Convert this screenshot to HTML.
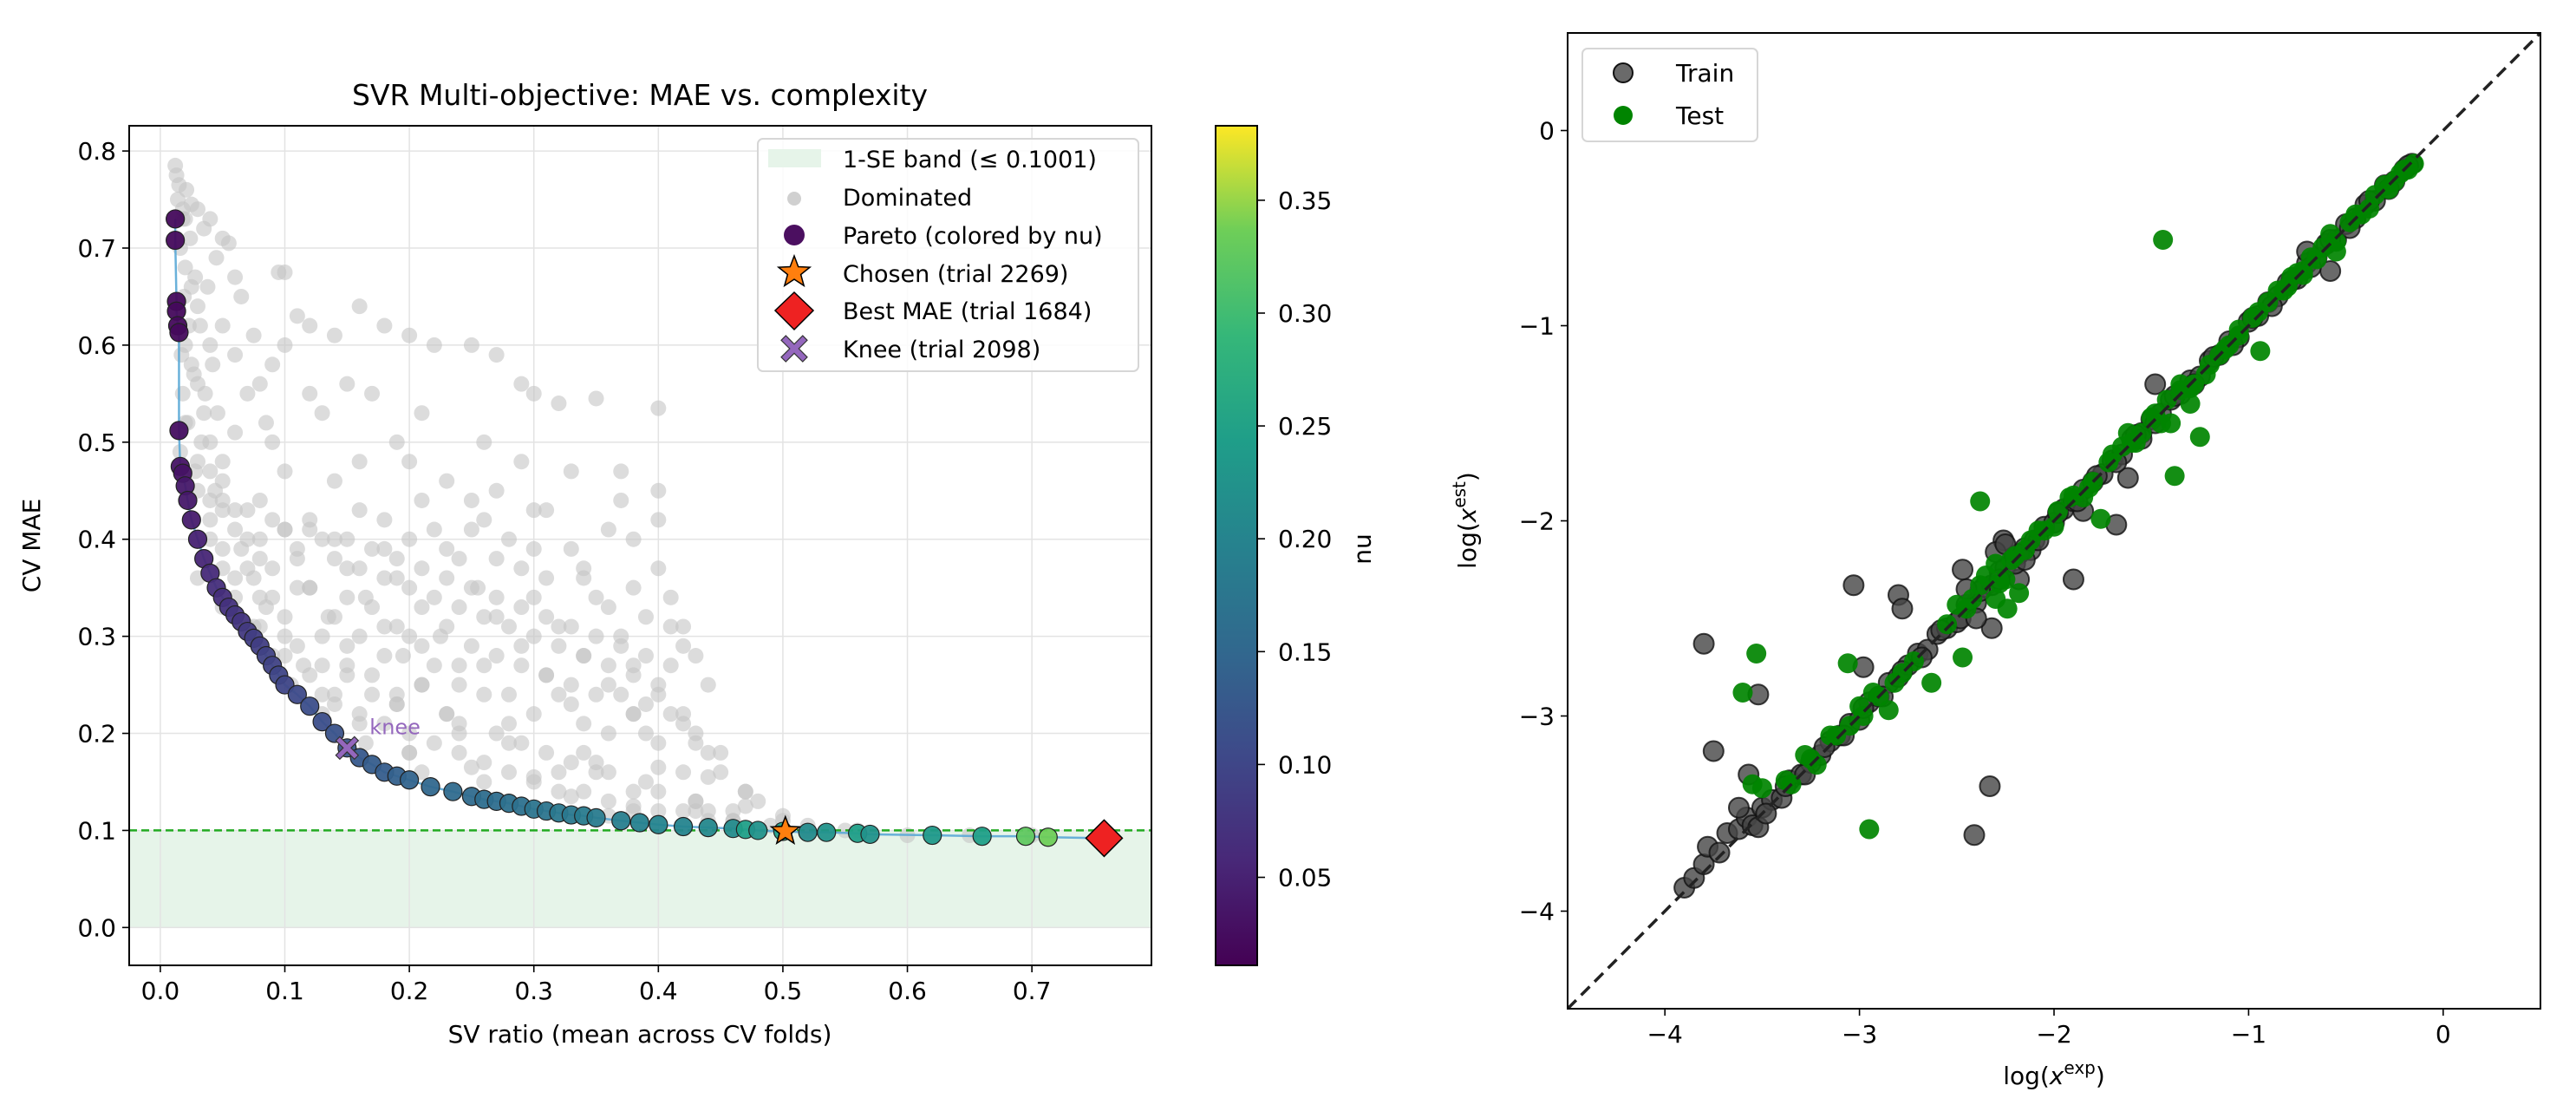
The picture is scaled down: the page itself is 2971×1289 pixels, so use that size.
<!DOCTYPE html>
<html><head><meta charset="utf-8"><style>
html,body{margin:0;padding:0;background:#fff;}
svg{display:block;font-family:"DejaVu Sans","Liberation Sans",sans-serif;}
</style></head><body>
<svg id="fig" width="2971" height="1289" viewBox="0 0 2971 1289" xmlns="http://www.w3.org/2000/svg">
<defs>
<linearGradient id="viridis" x1="0" y1="1" x2="0" y2="0">
<stop offset="0" stop-color="#440154"/><stop offset="0.125" stop-color="#482878"/><stop offset="0.25" stop-color="#3e4989"/><stop offset="0.375" stop-color="#31688e"/><stop offset="0.5" stop-color="#26828e"/><stop offset="0.625" stop-color="#1f9e89"/><stop offset="0.75" stop-color="#35b779"/><stop offset="0.875" stop-color="#6ece58"/><stop offset="1" stop-color="#fde725"/>
</linearGradient>
<clipPath id="clipL"><rect x="149" y="145" width="1179" height="968"/></clipPath>
<clipPath id="clipR"><rect x="1808" y="38" width="1122" height="1125"/></clipPath>
</defs>
<g id="left"></g>
<g id="cbar"></g>
<g id="right"></g>
</svg>
<script>
// ---------- Left chart data ----------
const xTicksL = [0.0,0.1,0.2,0.3,0.4,0.5,0.6,0.7];
const xTickLabelsL = ["0.0","0.1","0.2","0.3","0.4","0.5","0.6","0.7"];
const yTicksL = [0.0,0.1,0.2,0.3,0.4,0.5,0.6,0.7,0.8];
const yTickLabelsL = ["0.0","0.1","0.2","0.3","0.4","0.5","0.6","0.7","0.8"];
const cbTicks = [0.05,0.10,0.15,0.20,0.25,0.30,0.35];
const cbTickLabels = ["0.05","0.10","0.15","0.20","0.25","0.30","0.35"];
const seThreshold = 0.1001;
const domX = [0.012,0.013,0.015,0.014,0.018,0.02,0.025,0.03,0.035,0.04,0.05,0.055,0.045,0.06,0.065,0.02,0.025,0.03,0.02,0.025,0.03,0.04,0.05,0.06,0.035,0.04,0.05,0.06,0.07,0.08,0.09,0.1,0.11,0.12,0.14,0.16,0.18,0.2,0.22,0.095,0.1,0.075,0.085,0.09,0.1,0.12,0.13,0.15,0.17,0.19,0.2,0.21,0.23,0.25,0.27,0.29,0.3,0.32,0.35,0.4,0.37,0.37,0.4,0.4,0.27,0.29,0.3,0.18,0.25,0.14,0.16,0.33,0.26,
0.04,0.05,0.06,0.07,0.08,0.09,0.1,0.11,0.12,0.13,0.14,0.15,0.16,0.17,0.18,0.19,0.2,0.21,0.22,0.23,0.24,0.25,0.26,0.27,0.28,0.29,0.3,0.31,0.32,0.33,0.34,0.35,0.36,0.37,0.38,0.39,0.4,0.41,0.42,0.43,0.44,0.45,0.47,0.48,0.5,0.55,0.6,0.65,0.7,
0.06,0.08,0.1,0.12,0.14,0.16,0.18,0.2,0.22,0.24,0.26,0.28,0.3,0.32,0.34,0.36,0.38,0.4,0.42,0.1,0.12,0.14,0.16,0.18,0.2,0.22,0.24,0.26,0.28,0.3,0.32,0.34,0.36,0.38,0.4,0.44,0.46,0.09,0.11,0.13,0.15,0.17,0.19,0.21,0.23,0.25,0.27,0.29,0.31,0.33,0.35,0.37,0.39,0.41,0.05,0.07,0.03,0.04,0.23,0.27,0.31,0.35,0.39,0.41,0.42,0.2,0.25,0.3,0.34,0.38,0.15,0.19,0.23,0.27,0.31,0.35,0.39,0.43,
0.02,0.03,0.04,0.05,0.06,0.07,0.08,0.03,0.05,0.07,0.09,0.11,0.13,0.15,0.17,0.19,0.21,0.24,0.28,0.33,0.36,0.4,0.44,0.08,0.14,0.2,0.26,0.32,0.38,0.43,0.46,0.49,0.52];
const domY = [0.785,0.775,0.765,0.75,0.74,0.73,0.745,0.74,0.72,0.73,0.71,0.705,0.69,0.67,0.65,0.68,0.66,0.64,0.6,0.58,0.56,0.6,0.62,0.59,0.53,0.5,0.48,0.51,0.55,0.56,0.58,0.6,0.63,0.62,0.61,0.64,0.62,0.61,0.6,0.675,0.675,0.61,0.52,0.5,0.47,0.55,0.53,0.56,0.55,0.5,0.48,0.53,0.46,0.6,0.59,0.56,0.55,0.54,0.545,0.535,0.47,0.44,0.45,0.42,0.45,0.48,0.43,0.42,0.44,0.46,0.48,0.47,0.5,
0.42,0.44,0.41,0.43,0.4,0.42,0.41,0.39,0.41,0.4,0.38,0.4,0.37,0.39,0.36,0.38,0.35,0.37,0.34,0.36,0.33,0.35,0.32,0.34,0.31,0.33,0.3,0.32,0.29,0.31,0.28,0.3,0.27,0.29,0.26,0.28,0.25,0.27,0.22,0.2,0.18,0.16,0.14,0.13,0.11,0.1,0.095,0.095,0.095,
0.36,0.34,0.32,0.35,0.32,0.3,0.28,0.3,0.27,0.25,0.27,0.24,0.22,0.24,0.21,0.2,0.22,0.19,0.16,0.28,0.26,0.24,0.22,0.21,0.2,0.19,0.18,0.17,0.16,0.15,0.14,0.14,0.13,0.12,0.12,0.11,0.11,0.37,0.35,0.3,0.34,0.33,0.31,0.29,0.31,0.29,0.28,0.27,0.26,0.25,0.24,0.24,0.23,0.22,0.39,0.37,0.45,0.47,0.39,0.38,0.36,0.34,0.32,0.31,0.29,0.4,0.41,0.39,0.37,0.35,0.27,0.24,0.22,0.2,0.18,0.17,0.15,0.13,
0.52,0.48,0.44,0.46,0.43,0.4,0.38,0.36,0.33,0.31,0.34,0.29,0.27,0.26,0.24,0.23,0.25,0.21,0.19,0.17,0.16,0.14,0.12,0.31,0.23,0.18,0.15,0.16,0.14,0.12,0.12,0.105,0.1];
const domCoreX = [0.016,0.022,0.018,0.027,0.017,0.023,0.019,0.028,0.016,0.024,0.018,0.021,0.033,0.036,0.032,0.038,0.042,0.046,0.028,0.044,
0.05,0.08,0.12,0.16,0.21,0.26,0.31,0.36,
0.04,0.065,0.1,0.14,0.18,0.22,0.28,0.33,0.38,
0.05,0.075,0.11,0.15,0.19,0.24,0.29,0.34,0.4,
0.06,0.085,0.12,0.165,0.21,0.255,0.3,0.36,0.41,
0.075,0.1,0.135,0.18,0.225,0.27,0.32,0.37,0.42,
0.09,0.115,0.15,0.195,0.24,0.29,0.34,0.38,0.43,
0.105,0.13,0.17,0.21,0.26,0.31,0.36,0.4,0.44,
0.13,0.16,0.19,0.23,0.28,0.33,0.38,0.42,
0.165,0.2,0.24,0.29,0.34,0.39,0.43,0.45,
0.21,0.25,0.3,0.35,0.4,0.44,0.47,
0.28,0.33,0.38,0.43,0.47,0.5,
0.36,0.42,0.46,0.52,0.56];
const domCoreY = [0.49,0.52,0.55,0.57,0.59,0.62,0.65,0.67,0.7,0.71,0.73,0.76,0.5,0.55,0.62,0.66,0.58,0.53,0.47,0.45,
0.43,0.44,0.42,0.43,0.44,0.42,0.43,0.41,
0.4,0.39,0.41,0.4,0.39,0.41,0.4,0.39,0.4,
0.37,0.36,0.38,0.37,0.36,0.38,0.37,0.36,0.37,
0.34,0.33,0.35,0.34,0.33,0.35,0.34,0.33,0.34,
0.31,0.3,0.32,0.31,0.3,0.32,0.31,0.3,0.31,
0.28,0.27,0.29,0.28,0.27,0.29,0.28,0.27,0.28,
0.25,0.24,0.26,0.25,0.24,0.26,0.25,0.24,0.25,
0.22,0.21,0.23,0.22,0.21,0.23,0.22,0.21,
0.19,0.18,0.2,0.19,0.18,0.2,0.19,0.18,
0.16,0.165,0.155,0.16,0.165,0.155,0.14,
0.13,0.135,0.125,0.13,0.125,0.115,
0.115,0.12,0.11,0.105,0.1];
const paretoX = [0.012,0.012,0.013,0.013,0.014,0.015,0.015,0.016,0.018,0.02,0.022,0.025,0.03,0.035,0.04,0.045,0.05,0.055,0.06,0.065,0.07,0.075,0.08,0.085,0.09,0.095,0.10,0.11,0.12,0.13,0.14,0.15,0.16,0.17,0.18,0.19,0.20,0.217,0.235,0.25,0.26,0.27,0.28,0.29,0.30,0.31,0.32,0.33,0.34,0.35,0.37,0.385,0.40,0.42,0.44,0.46,0.47,0.48,0.50,0.52,0.535,0.56,0.57,0.62,0.66,0.695,0.713,0.758];
const paretoY = [0.73,0.708,0.645,0.635,0.62,0.613,0.512,0.475,0.468,0.455,0.44,0.42,0.40,0.38,0.365,0.35,0.34,0.33,0.322,0.315,0.305,0.298,0.29,0.28,0.27,0.26,0.25,0.24,0.228,0.212,0.20,0.185,0.175,0.168,0.16,0.156,0.152,0.145,0.14,0.135,0.132,0.13,0.128,0.125,0.122,0.12,0.118,0.116,0.115,0.113,0.11,0.108,0.106,0.104,0.103,0.102,0.101,0.10,0.099,0.098,0.098,0.097,0.096,0.095,0.094,0.094,0.093,0.092];
const paretoNu = [0.02,0.02,0.02,0.02,0.02,0.02,0.025,0.03,0.03,0.035,0.035,0.04,0.045,0.05,0.055,0.06,0.06,0.065,0.07,0.07,0.075,0.08,0.08,0.085,0.085,0.09,0.09,0.095,0.1,0.1,0.105,0.11,0.115,0.12,0.12,0.125,0.13,0.135,0.14,0.14,0.145,0.145,0.15,0.15,0.155,0.155,0.16,0.16,0.165,0.165,0.17,0.175,0.18,0.18,0.185,0.19,0.22,0.2,0.22,0.19,0.2,0.22,0.2,0.21,0.22,0.29,0.3,0.3];
const chosen = [0.502, 0.099];
const bestMae = [0.758, 0.092];
const knee = [0.150, 0.185];

// ---------- Right chart data ----------
const ticksR = [-4,-3,-2,-1,0];
const tickLabelsR = ["\u22124","\u22123","\u22122","\u22121","0"];
const trainX = [-3.9,-3.85,-3.8,-3.78,-3.72,-3.68,-3.62,-3.58,-3.55,-3.5,-3.45,-3.4,-3.36,-3.3,-3.25,-3.2,-3.15,-3.1,-3.05,-3.0,-2.95,-2.9,-2.85,-2.8,-2.75,-2.7,-2.65,-2.6,-2.55,-2.5,-2.45,-2.4,-2.36,-2.32,-2.28,-2.25,-2.2,-2.15,-2.1,-2.05,-2.0,-1.95,-1.9,-1.85,-1.8,-1.75,-1.7,-1.65,-1.6,-1.55,-1.5,-1.45,-1.4,-1.35,-1.3,-1.25,-1.2,-1.15,-1.1,-1.05,-1.0,-0.95,-0.9,-0.85,-0.8,-0.75,-0.7,-0.65,-0.6,-0.55,-0.5,-0.45,-0.4,-0.35,-0.3,-0.25,-0.2,-0.16,
-3.8,-3.75,-3.52,-3.03,-2.8,-2.78,-2.98,-2.33,-2.41,-1.9,-1.68,-2.47,-3.57,-3.62,-3.52,-2.32,-2.26,-1.85,-1.55,-0.58,-1.48,-2.18,-2.12,-1.62,-0.7,
-3.48,-3.38,-3.28,-3.18,-3.08,-2.98,-2.88,-2.78,-2.68,-2.58,-2.48,-2.38,-2.28,-2.18,-2.08,-1.98,-1.88,-1.78,-1.68,-1.58,-1.48,-1.38,-1.28,-1.18,-1.08,-0.98,-0.88,-0.78,-0.68,-0.58,-0.48,-0.38,-0.28,-0.18,-2.3,-2.25,-2.2,-2.15,-2.4,-2.45];
const trainY = [-3.88,-3.83,-3.76,-3.67,-3.7,-3.6,-3.58,-3.52,-3.56,-3.47,-3.43,-3.42,-3.33,-3.3,-3.24,-3.2,-3.13,-3.1,-3.04,-3.02,-2.93,-2.9,-2.83,-2.8,-2.74,-2.68,-2.66,-2.58,-2.55,-2.52,-2.43,-2.42,-2.34,-2.33,-2.26,-2.24,-2.18,-2.14,-2.1,-2.03,-2.01,-1.94,-1.9,-1.84,-1.8,-1.76,-1.69,-1.66,-1.58,-1.55,-1.48,-1.45,-1.38,-1.35,-1.28,-1.26,-1.18,-1.15,-1.08,-1.06,-0.98,-0.95,-0.88,-0.85,-0.78,-0.76,-0.68,-0.65,-0.58,-0.56,-0.48,-0.45,-0.38,-0.36,-0.28,-0.26,-0.2,-0.17,
-2.63,-3.18,-2.89,-2.33,-2.38,-2.45,-2.75,-3.36,-3.61,-2.3,-2.02,-2.25,-3.3,-3.47,-3.57,-2.55,-2.1,-1.95,-1.58,-0.72,-1.3,-2.3,-2.15,-1.78,-0.62,
-3.5,-3.36,-3.3,-3.16,-3.1,-2.96,-2.9,-2.77,-2.7,-2.56,-2.5,-2.36,-2.3,-2.17,-2.1,-1.96,-1.9,-1.77,-1.7,-1.56,-1.5,-1.36,-1.3,-1.16,-1.1,-0.96,-0.9,-0.77,-0.7,-0.56,-0.5,-0.36,-0.3,-0.18,-2.16,-2.12,-2.22,-2.2,-2.5,-2.35];
const testX = [-1.44,-2.38,-3.53,-3.6,-3.06,-2.47,-2.63,-2.95,-0.94,-1.25,-1.38,-1.76,-2.18,-2.24,-3.55,-3.5,-3.38,-3.28,-3.22,-3.15,-3.05,-3.0,-2.93,-2.85,-2.78,-2.72,-2.55,-2.5,-2.42,-2.35,-2.3,-2.25,-2.2,-2.12,-2.05,-1.98,-1.92,-1.85,-1.8,-1.72,-1.65,-1.6,-1.55,-1.48,-1.42,-1.35,-1.3,-1.22,-1.15,-1.1,-1.05,-0.98,-0.9,-0.85,-0.78,-0.72,-0.68,-0.62,-0.55,-0.48,-0.42,-0.35,-0.28,-0.22,-0.18,-0.15,-0.8,-0.58,-1.4,-2.3,
-3.35,-3.25,-3.12,-2.98,-2.9,-2.82,-2.45,-2.38,-2.28,-2.22,-2.15,-2.08,-2.0,-1.9,-1.82,-1.7,-1.58,-1.5,-1.45,-1.35,-1.28,-1.2,-1.12,-1.05,-0.95,-0.82,-0.75,-0.65,-0.55,-0.45,-0.38,-0.3,-0.25,-0.2,-1.62,-1.3,-0.72];
const testY = [-0.56,-1.9,-2.68,-2.88,-2.73,-2.7,-2.83,-3.58,-1.13,-1.57,-1.77,-1.99,-2.37,-2.45,-3.35,-3.37,-3.33,-3.2,-3.25,-3.1,-3.05,-2.95,-2.88,-2.97,-2.78,-2.72,-2.53,-2.43,-2.4,-2.28,-2.22,-2.3,-2.18,-2.1,-2.05,-1.95,-1.88,-1.88,-1.8,-1.7,-1.62,-1.6,-1.55,-1.45,-1.38,-1.3,-1.32,-1.25,-1.15,-1.1,-1.02,-0.96,-0.88,-0.82,-0.75,-0.74,-0.65,-0.6,-0.62,-0.47,-0.43,-0.33,-0.3,-0.22,-0.2,-0.17,-0.8,-0.53,-1.5,-2.4,
-3.35,-3.22,-3.1,-3.0,-2.9,-2.83,-2.45,-2.33,-2.32,-2.2,-2.15,-2.05,-2.03,-1.87,-1.83,-1.66,-1.6,-1.47,-1.5,-1.33,-1.3,-1.2,-1.12,-1.05,-0.93,-0.82,-0.73,-0.66,-0.57,-0.43,-0.4,-0.28,-0.26,-0.2,-1.55,-1.4,-0.72];

// ---------- helpers ----------
const NS = "http://www.w3.org/2000/svg";
function mk(parent, tag, attrs, text){
  const e = document.createElementNS(NS, tag);
  for (const k in attrs) e.setAttribute(k, attrs[k]);
  if (text !== undefined) e.textContent = text;
  parent.appendChild(e); return e;
}
const VIR = [[68,1,84],[72,40,120],[62,73,137],[49,104,142],[38,130,142],[31,158,137],[53,183,121],[110,206,88],[181,222,43],[253,231,37]];
function viridis(t){
  t = Math.max(0, Math.min(1, t)); const s = t*(VIR.length-1); const i = Math.min(Math.floor(s), VIR.length-2); const f = s-i;
  const c = VIR[i].map((v,j)=>Math.round(v+(VIR[i+1][j]-v)*f)); return `rgb(${c[0]},${c[1]},${c[2]})`;
}
const L = {x0:149,x1:1328,y0:145,y1:1113, xmin:-0.025, xmax:0.796, ymin:-0.039, ymax:0.826};
const xL = v => L.x0 + (v-L.xmin)/(L.xmax-L.xmin)*(L.x1-L.x0);
const yL = v => L.y1 - (v-L.ymin)/(L.ymax-L.ymin)*(L.y1-L.y0);
const CB = {x0:1402,x1:1450,y0:145,y1:1113,min:0.011,max:0.383};
const yCB = v => CB.y1 - (v-CB.min)/(CB.max-CB.min)*(CB.y1-CB.y0);
const nuColor = v => viridis((v-CB.min)/(CB.max-CB.min));
const R = {x0:1808,x1:2930,y0:38,y1:1163,min:-4.5,max:0.5};
const xR = v => R.x0 + (v-R.min)/(R.max-R.min)*(R.x1-R.x0);
const yR = v => R.y1 - (v-R.min)/(R.max-R.min)*(R.y1-R.y0);

function star(cx, cy, r){
  let p=[]; for(let i=0;i<10;i++){const a=-Math.PI/2+i*Math.PI/5; const rr=i%2?r*0.42:r; p.push((cx+rr*Math.cos(a)).toFixed(1)+","+(cy+rr*Math.sin(a)).toFixed(1));} return p.join(" ");
}
function crossPath(cx, cy, s){
  const a=s*0.35, b=s;
  const pts=[[-b,-b+a],[-b+a,-b],[0,-a],[b-a,-b],[b,-b+a],[a,0],[b,b-a],[b-a,b],[0,a],[-b+a,b],[-b,b-a],[-a,0]];
  return "M"+pts.map(p=>(cx+p[0]).toFixed(1)+","+(cy+p[1]).toFixed(1)).join("L")+"Z";
}

// ---------- Draw left ----------
const gL = document.getElementById('left');
let t = mk(gL,'text',{x:738,y:121,'font-size':33,'text-anchor':'middle',fill:'#000'},'SVR Multi-objective: MAE vs. complexity');


const plotL = mk(gL,'g',{'clip-path':'url(#clipL)'});


let band = mk(plotL,'rect',{x:L.x0,y:yL(seThreshold),width:L.x1-L.x0,height:yL(0)-yL(seThreshold),fill:'#e6f4e9'});


xTicksL.forEach(v=>{ const g=mk(plotL,'line',{x1:xL(v),x2:xL(v),y1:L.y0,y2:L.y1,stroke:'#e3e3e3','stroke-width':1.5});
    });
yTicksL.forEach(v=>{ const g=mk(plotL,'line',{x1:L.x0,x2:L.x1,y1:yL(v),y2:yL(v),stroke:'#e3e3e3','stroke-width':1.5});
    });
const gDom = mk(plotL,'g',{});


domX.forEach((x,i)=>{ const c=mk(gDom,'circle',{cx:xL(x),cy:yL(domY[i]),r:9,fill:'#c4c4c4','fill-opacity':0.6});
    });
domCoreX.forEach((x,i)=>{ const c=mk(gDom,'circle',{cx:xL(x),cy:yL(domCoreY[i]),r:9,fill:'#c4c4c4','fill-opacity':0.6});
    });
let th = mk(plotL,'line',{x1:L.x0,x2:L.x1,y1:yL(seThreshold),y2:yL(seThreshold),stroke:'#22aa22','stroke-width':2.5,'stroke-dasharray':'9,5'});


let pl = mk(plotL,'polyline',{points:paretoX.map((x,i)=>xL(x)+","+yL(paretoY[i])).join(" "),fill:'none',stroke:'#5aa9d6','stroke-width':2.5,'stroke-opacity':0.9});


const gPar = mk(plotL,'g',{});


paretoX.forEach((x,i)=>{ const c=mk(gPar,'circle',{cx:xL(x),cy:yL(paretoY[i]),r:10.5,fill:nuColor(paretoNu[i]),stroke:'#222','stroke-width':1.2,'fill-opacity':0.95});
    });
let st = mk(plotL,'polygon',{points:star(xL(chosen[0]),yL(chosen[1]),17),fill:'#ff7f0e',stroke:'#000','stroke-width':1.5});


const bx=xL(bestMae[0]), by=yL(bestMae[1]);
let dm = mk(plotL,'polygon',{points:`${bx},${by-21} ${bx+21},${by} ${bx},${by+21} ${bx-21},${by}`,fill:'#ee2222',stroke:'#000','stroke-width':1.5});


let kn = mk(plotL,'path',{d:crossPath(xL(knee[0]),yL(knee[1]),13),fill:'#9467bd',stroke:'#333','stroke-width':1.2});


let kl = mk(plotL,'text',{x:xL(knee[0])+26,y:yL(knee[1])-16,'font-size':24,fill:'#9467bd'},'knee');


let fr = mk(gL,'rect',{x:L.x0,y:L.y0,width:L.x1-L.x0,height:L.y1-L.y0,fill:'none',stroke:'#000','stroke-width':2});


xTicksL.forEach((v,i)=>{ mk(gL,'line',{x1:xL(v),x2:xL(v),y1:L.y1,y2:L.y1+8,stroke:'#000','stroke-width':1.6});
  const tt=mk(gL,'text',{x:xL(v),y:L.y1+39,'font-size':28,'text-anchor':'middle'},xTickLabelsL[i]);
    });
yTicksL.forEach((v,i)=>{ mk(gL,'line',{x1:L.x0-8,x2:L.x0,y1:yL(v),y2:yL(v),stroke:'#000','stroke-width':1.6});
  const tt=mk(gL,'text',{x:L.x0-15,y:yL(v)+10,'font-size':28,'text-anchor':'end'},yTickLabelsL[i]);
    });
t = mk(gL,'text',{x:738,y:1202,'font-size':28,'text-anchor':'middle'},'SV ratio (mean across CV folds)');


t = mk(gL,'text',{x:0,y:0,'font-size':28,'text-anchor':'middle',transform:'translate(46,629) rotate(-90)'},'CV MAE');


const lg = mk(gL,'g',{});


mk(lg,'rect',{x:874,y:160,width:439,height:268,rx:6,fill:'#fff','fill-opacity':0.85,stroke:'#d6d6d6','stroke-width':2});
const lgLabels = ['1-SE band (\u2264 0.1001)','Dominated','Pareto (colored by nu)','Chosen (trial 2269)','Best MAE (trial 1684)','Knee (trial 2098)'];
const lgY = [183,227,271,315,358,402];
mk(lg,'rect',{x:886,y:172,width:61,height:21,fill:'#e6f4e9'});
mk(lg,'circle',{cx:916,cy:229,r:8,fill:'#d0d0d0'});
mk(lg,'circle',{cx:916,cy:271,r:12,fill:'#4b0f60'});
mk(lg,'polygon',{points:star(916,314,19),fill:'#ff7f0e',stroke:'#000','stroke-width':1.5});
mk(lg,'polygon',{points:'916,337 938,358 916,380 894,358',fill:'#ee2222',stroke:'#000','stroke-width':1.5});
mk(lg,'path',{d:crossPath(916,402,15),fill:'#9467bd',stroke:'#333','stroke-width':1.2});
lgLabels.forEach((s,i)=>{ const tt=mk(lg,'text',{x:972,y:lgY[i]+10,'font-size':27},s);
    });

// ---------- Colorbar ----------
const gC = document.getElementById('cbar');
mk(gC,'rect',{x:CB.x0,y:CB.y0,width:CB.x1-CB.x0,height:CB.y1-CB.y0,fill:'url(#viridis)',stroke:'#000','stroke-width':2});
cbTicks.forEach((v,i)=>{ mk(gC,'line',{x1:CB.x1,x2:CB.x1+9,y1:yCB(v),y2:yCB(v),stroke:'#000','stroke-width':1.6});
  const tt=mk(gC,'text',{x:CB.x1+24,y:yCB(v)+10,'font-size':28},cbTickLabels[i]);
    });
t = mk(gC,'text',{x:0,y:0,'font-size':28,'text-anchor':'middle',transform:'translate(1566,633) rotate(90)'},'nu');



// ---------- Draw right ----------
const gR = document.getElementById('right');
const plotR = mk(gR,'g',{'clip-path':'url(#clipR)'});


const gTr = mk(plotR,'g',{});


trainX.forEach((x,i)=>{ const c=mk(gTr,'circle',{cx:xR(x),cy:yR(trainY[i]),r:11.5,fill:'#454545','fill-opacity':0.8,stroke:'#111','stroke-width':2,'stroke-opacity':0.8});
    });
const gTe = mk(plotR,'g',{});


testX.forEach((x,i)=>{ const c=mk(gTe,'circle',{cx:xR(x),cy:yR(testY[i]),r:11.5,fill:'#008400','fill-opacity':0.92});
    });
let dl = mk(plotR,'line',{x1:xR(-4.5),y1:yR(-4.5),x2:xR(0.5),y2:yR(0.5),stroke:'#222','stroke-width':3.5,'stroke-dasharray':'14,8'});


fr = mk(gR,'rect',{x:R.x0,y:R.y0,width:R.x1-R.x0,height:R.y1-R.y0,fill:'none',stroke:'#000','stroke-width':2});


ticksR.forEach((v,i)=>{ mk(gR,'line',{x1:xR(v),x2:xR(v),y1:R.y1,y2:R.y1+8,stroke:'#000','stroke-width':1.6});
  let tt=mk(gR,'text',{x:xR(v),y:R.y1+39,'font-size':28,'text-anchor':'middle'},tickLabelsR[i]);
   
  mk(gR,'line',{x1:R.x0-8,x2:R.x0,y1:yR(v),y2:yR(v),stroke:'#000','stroke-width':1.6});
  tt=mk(gR,'text',{x:R.x0-15,y:yR(v)+10,'font-size':28,'text-anchor':'end'},tickLabelsR[i]);
    });
t = mk(gR,'text',{x:2369,y:1250,'font-size':28,'text-anchor':'middle'});


t.innerHTML = 'log(<tspan font-style="italic">x</tspan><tspan dy="-12" font-size="20">exp</tspan><tspan dy="12">)</tspan>';
t = mk(gR,'text',{x:0,y:0,'font-size':28,'text-anchor':'middle',transform:'translate(1702,600) rotate(-90)'});


t.innerHTML = 'log(<tspan font-style="italic">x</tspan><tspan dy="-12" font-size="20">est</tspan><tspan dy="12">)</tspan>';
const lr = mk(gR,'g',{});


mk(lr,'rect',{x:1825,y:56,width:202,height:107,rx:6,fill:'#fff','fill-opacity':0.85,stroke:'#d6d6d6','stroke-width':2});
mk(lr,'circle',{cx:1872,cy:84,r:11,fill:'#454545','fill-opacity':0.8,stroke:'#111','stroke-width':2});
mk(lr,'circle',{cx:1872,cy:133,r:11,fill:'#008400'});
t = mk(lr,'text',{x:1933,y:94,'font-size':28},'Train');


t = mk(lr,'text',{x:1933,y:143,'font-size':28},'Test');


</script>
</body></html>
